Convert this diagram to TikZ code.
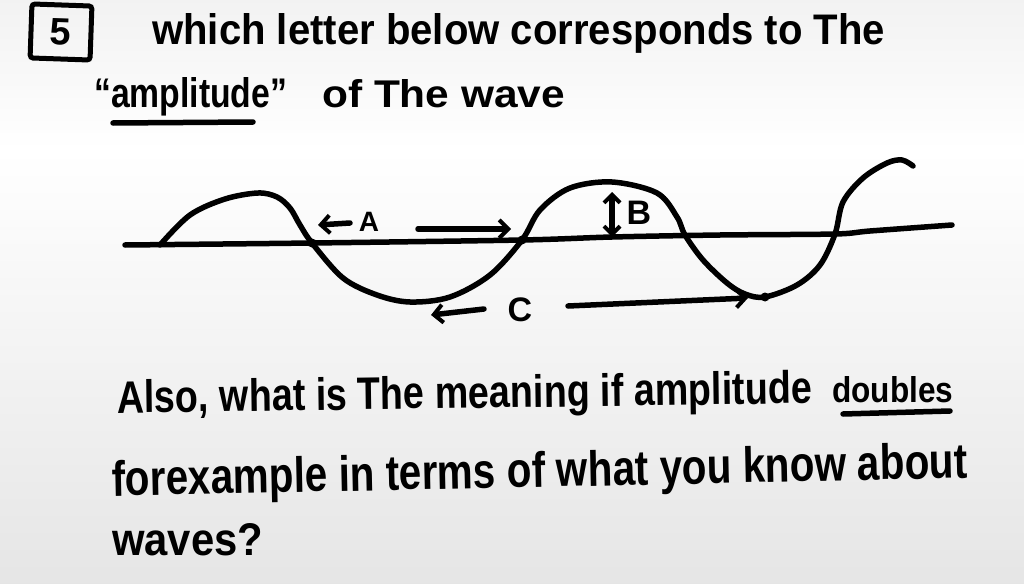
\documentclass[tikz,border=0pt]{standalone}
\usepackage{fontspec}
\setmainfont{Liberation Sans}
\usepackage{graphicx}
\usetikzlibrary{arrows.meta}
\newcommand{\fitt}[3]{\resizebox{#1pt}{#2pt}{#3}}
\begin{document}
\begin{tikzpicture}[x=1pt,y=-1pt,
  ink/.style={line width=5.5pt, line cap=round, line join=round, black},
  txt/.style={inner sep=0pt, anchor=base west, font=\fontsize{40}{44}\selectfont\bfseries},
  lbl/.style={inner sep=0pt, anchor=center, font=\fontsize{34}{38}\selectfont\bfseries},
  barb/.style={ink, -{Straight Barb[length=9pt,width=18pt,line width=4pt]}},
  dbl/.style={ink, {Straight Barb[length=8pt,width=16pt,line width=4pt]}-{Straight Barb[length=8pt,width=16pt,line width=4pt]}},
  dot/.style={circle, fill=black, inner sep=0pt, minimum size=9pt},
  qbox/.style={draw, line width=5pt, rounded corners=3pt, minimum width=60pt, minimum height=54pt, inner sep=0pt, font=\fontsize{38}{40}\selectfont\bfseries}
]
\useasboundingbox (0,0) rectangle (1024,583);
% background
\shade[top color=gray!10, bottom color=white] (0,0) rectangle (1024,150);
\shade[top color=white, bottom color=gray!20] (0,150) rectangle (1024,583);

% header
\node[qbox, rotate=-2] (q5) at (61,32) {5};
\node[txt] (l1) at (152,45) {\fitt{733}{31}{which letter below corresponds to The}};
\node[txt] (l2a) at (94,108) {\fitt{193}{30}{“amplitude”}};
\node[txt] (l2b) at (322,108) {\fitt{243}{28}{of The wave}};
\draw[ink] (113,123) -- (253,122);

% axis
\draw[ink] plot[smooth, tension=0.5] coordinates {(125,245) (312,243) (522,240) (612,237) (720,235) (835,234) (870,231) (952,225)};

% wave
\draw[ink] plot[smooth, tension=0.55] coordinates {
 (160,245) (190,215) (225,199) (258,193) (277,197) (290,208) (300,225) (312,243)
 (343,278) (377,295) (410,302) (450,297) (490,275) (522,240)
 (540,210) (570,188) (612,182) (657,193) (677,217) (685,235)
 (703,260) (727,283) (745,294) (765,297) (797,285) (820,265) (835,234)
 (843,202) (863,178) (887,163) (902,160) (913,166)};

\node[dot] (d1) at (312,243) {};
\node[dot] (d2) at (522,240) {};
\node[dot] (d3) at (765,297) {};

% labels
\node[lbl, font=\fontsize{28}{30}\selectfont\bfseries] (lA) at (369,222) {A};
\node[lbl] (lB) at (639,213) {B};
\node[lbl] (lC) at (520,310) {C};

% arrows
\coordinate (a1t) at (350,223);
\coordinate (a1h) at (318,225);
\coordinate (a2t) at (418,229);
\coordinate (a2h) at (511,229);
\coordinate (bT) at (612,192);
\coordinate (bB) at (612,237);
\coordinate (c1t) at (484,309);
\coordinate (c1h) at (431,315);
\coordinate (c2t) at (568,306);
\coordinate (c2h) at (748,298);
\draw[barb] (a1t) -- (a1h);
\draw[barb] (a2t) -- (a2h);
\draw[dbl] (bT) -- (bB);
\draw[barb] (c1t) -- (c1h);
\draw[barb] (c2t) -- (c2h);

% question text
\node[txt, rotate=0.8] (l3a) at (117,413) {\fitt{695}{33}{Also, what is The meaning if amplitude}};
\node[txt] (l3b) at (832,402) {\fitt{121}{26}{doubles}};
\draw[ink] (843,414) -- (950,411);
\node[txt, rotate=1.2] (l4) at (112,496) {\fitt{856}{36}{forexample in terms of what you know about}};
\node[txt] (l5) at (112,555) {\fitt{151}{32}{waves?}};
\end{tikzpicture}
\end{document}
